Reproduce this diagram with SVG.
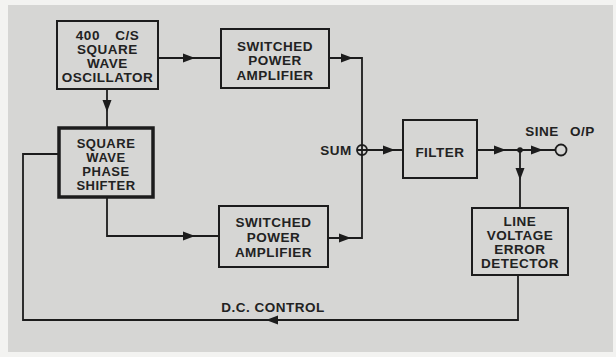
<svg xmlns="http://www.w3.org/2000/svg" width="616" height="357" viewBox="0 0 616 357">
<style>
.box{fill:#d6d6d4;stroke:#1c1c1c;stroke-width:2}
.thick{stroke-width:3.5}
.t{font-family:"Liberation Sans",Arial,sans-serif;font-weight:bold;font-size:13.5px;fill:#222;text-anchor:middle;letter-spacing:0.5px}
.s{font-size:13px}
.w{fill:none;stroke:#1c1c1c;stroke-width:1.8}
.ah{fill:#1c1c1c}
</style>
<defs>
<path id="ar" d="M-7,-4.5 L5,0 L-7,4.5 Z" class="ah"/>
</defs>
<rect x="0" y="0" width="616" height="357" fill="#f3f3f1"/>
<rect x="8" y="5" width="605" height="347" fill="#d6d6d4"/>

<g id="connectors">
<path class="w" d="M158,58 H221"/>
<use href="#ar" transform="translate(190,58)"/>
<path class="w" d="M107,89 V128"/>
<use href="#ar" transform="translate(107,107) rotate(90)"/>
<path class="w" d="M107,197 V236 H219"/>
<use href="#ar" transform="translate(190,236)"/>
<path class="w" d="M329,58 H362 V238 H328"/>
<use href="#ar" transform="translate(348,58)"/>
<use href="#ar" transform="translate(346,238)"/>
<circle cx="362" cy="150" r="5" class="w"/>
<path class="w" d="M357,150 H403"/>
<use href="#ar" transform="translate(390,150)"/>
<path class="w" d="M477,150 H555"/>
<use href="#ar" transform="translate(501,150)"/>
<use href="#ar" transform="translate(538,150)"/>
<circle cx="520" cy="150" r="2.8" class="ah"/>
<circle cx="561" cy="150" r="5.5" class="w"/>
<path class="w" d="M520,150 V208"/>
<use href="#ar" transform="translate(520,175) rotate(90)"/>
<path class="w" d="M518,275 V320 H23 V154 H59"/>
<use href="#ar" transform="translate(271,320) rotate(180)"/>
</g>

<g id="oscillator">
<rect class="box" x="57" y="21" width="101" height="68"/>
<text class="t" x="107.5" y="40" word-spacing="11">400 C/S</text>
<text class="t" x="107.5" y="54">SQUARE</text>
<text class="t" x="107.5" y="68">WAVE</text>
<text class="t" x="107.5" y="82">OSCILLATOR</text>
</g>

<g id="amp-top">
<rect class="box" x="221" y="29" width="108" height="59"/>
<text class="t" x="275" y="51">SWITCHED</text>
<text class="t" x="275" y="65">POWER</text>
<text class="t" x="275" y="80">AMPLIFIER</text>
</g>

<g id="phase-shifter">
<rect class="box thick" x="59" y="128" width="94" height="69"/>
<text class="t s" x="106" y="148">SQUARE</text>
<text class="t s" x="106" y="162">WAVE</text>
<text class="t s" x="106" y="176">PHASE</text>
<text class="t s" x="106" y="190">SHIFTER</text>
</g>

<g id="amp-bottom">
<rect class="box" x="219" y="206" width="109" height="61"/>
<text class="t" x="273.5" y="227">SWITCHED</text>
<text class="t" x="273.5" y="242">POWER</text>
<text class="t" x="273.5" y="257">AMPLIFIER</text>
</g>

<g id="sum">
<text class="t" x="336" y="155">SUM</text>
</g>

<g id="filter">
<rect class="box" x="403" y="120" width="74" height="58"/>
<text class="t" x="440" y="157">FILTER</text>
</g>

<g id="output">
<text class="t" x="560" y="136" word-spacing="7">SINE O/P</text>
</g>

<g id="detector">
<rect class="box" x="472" y="208" width="96" height="67"/>
<text class="t" x="520" y="226">LINE</text>
<text class="t" x="520" y="240">VOLTAGE</text>
<text class="t" x="520" y="254">ERROR</text>
<text class="t" x="520" y="268">DETECTOR</text>
</g>

<g id="dc-control">
<text class="t" x="273" y="312">D.C. CONTROL</text>
</g>
</svg>
